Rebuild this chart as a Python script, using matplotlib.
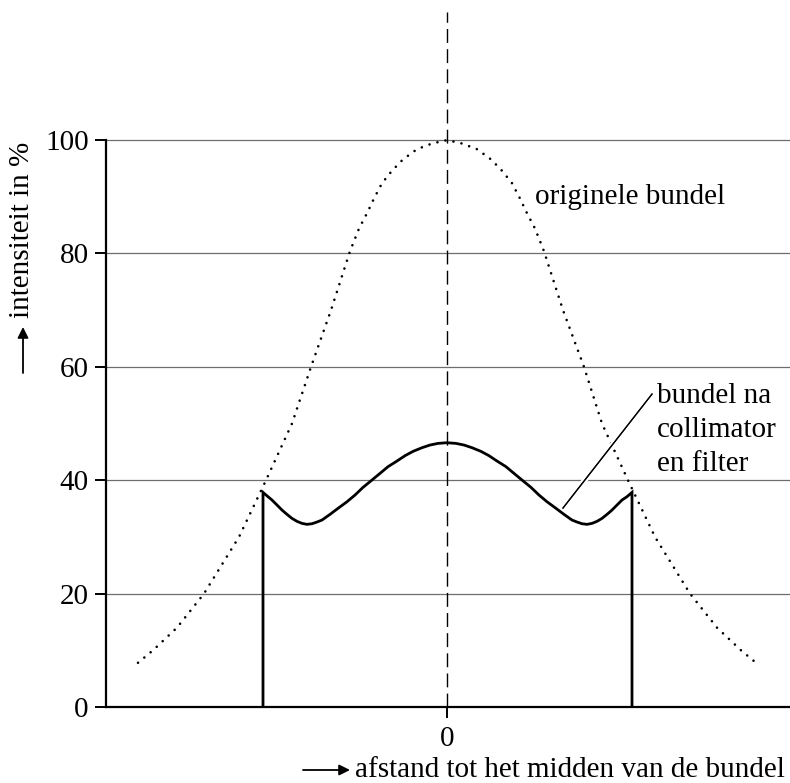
import matplotlib.pyplot as plt
import matplotlib.patheffects as pe

plt.rcParams["font.family"] = ["Liberation Serif", "DejaVu Serif"]

# originele bundel: afstand tot midden (willekeurige eenheid), intensiteit in %
orig_x = [-3.09, -2.94, -2.70, -2.43, -2.08, -1.81, -1.55, -1.36, -1.16, -0.97,
          -0.88, -0.80, -0.73, -0.65, -0.55, -0.44, -0.30, -0.15, 0.00,
          0.15, 0.30, 0.44, 0.55, 0.65, 0.73, 0.80, 0.88, 0.97,
          1.16, 1.37, 1.55, 1.81, 2.08, 2.43, 2.70, 2.94, 3.09]
orig_y = [7.8, 10.0, 14.0, 20.0, 30.0, 40.0, 50.0, 60.0, 70.0, 80.4,
          84.4, 87.1, 89.7, 92.4, 94.6, 96.6, 98.4, 99.4, 100.0,
          99.4, 98.4, 96.6, 94.6, 92.4, 89.7, 87.1, 84.4, 80.4,
          70.0, 60.0, 50.0, 40.0, 30.0, 20.0, 14.0, 10.0, 7.8]

filt_left_x = [-1.84, -1.84, -1.79, -1.75, -1.70, -1.65, -1.60, -1.55, -1.50,
               -1.45, -1.40, -1.35, -1.30, -1.25, -1.17, -1.09, -1.00, -0.92,
               -0.84, -0.75, -0.67, -0.59, -0.50, -0.42, -0.34, -0.25, -0.17,
               -0.09]
filt_left_y = [0.0, 37.86, 37.10, 36.51, 35.63, 34.74, 33.98, 33.27, 32.75,
               32.39, 32.22, 32.33, 32.63, 32.98, 33.98, 35.04, 36.21, 37.39,
               38.74, 40.04, 41.21, 42.39, 43.39, 44.33, 45.09, 45.74, 46.21,
               46.50]
filt_mid_x = [0.0]
filt_mid_y = [46.62]
# rechterhelft: gespiegeld, rechterrand ligt bij 1.85
filt_right_x = [0.09, 0.17, 0.25, 0.34, 0.42, 0.50, 0.59, 0.67, 0.75, 0.84,
                0.92, 1.00, 1.09, 1.17, 1.25, 1.30, 1.35, 1.40, 1.45, 1.50,
                1.55, 1.60, 1.65, 1.70, 1.75, 1.80, 1.85, 1.85]
filt_right_y = [46.50, 46.21, 45.74, 45.09, 44.33, 43.39, 42.39, 41.21, 40.04,
                38.74, 37.39, 36.21, 35.04, 33.98, 32.98, 32.63, 32.33, 32.22,
                32.39, 32.75, 33.27, 33.98, 34.74, 35.63, 36.51, 37.10, 37.86,
                0.0]

y_ticks = [0, 20, 40, 60, 80, 100]
x_ticks = [0]

W, H = 790, 783
fig = plt.figure(figsize=(W / 100, H / 100), dpi=100)
ax = fig.add_axes([106 / W, 76 / H, 684 / W, 695 / H])
ax.set_xlim(-3.41, 3.43)
ax.set_ylim(0, 122.6)

for t in y_ticks[1:]:
    ax.axhline(t, color="#6e6e6e", lw=0.9, zorder=1)

ax.axvline(0, color="black", lw=1.0, dashes=(10, 4.5), zorder=2)

ax.plot(orig_x, orig_y, color="black", lw=1.9, dashes=(0.01, 3.1),
        dash_capstyle="round", zorder=3)

# verwijslijn
ax.plot([1.16, 2.05], [35.1, 55.2], color="black", lw=0.9, zorder=4,
        path_effects=[pe.withStroke(linewidth=4, foreground="white"), pe.Normal()])

fx = filt_left_x + filt_mid_x + filt_right_x
fy = filt_left_y + filt_mid_y + filt_right_y
ax.plot(fx, fy, color="black", lw=2.0, solid_joinstyle="miter", zorder=5)

ax.text(0.88, 90, "originele bundel", fontsize=21, ha="left", va="center")
ax.text(2.10, 48.9, "bundel na\ncollimator\nen filter", fontsize=21,
        ha="left", va="center", linespacing=1.4)

for s in ["top", "right"]:
    ax.spines[s].set_visible(False)
ax.spines["left"].set_bounds(0, 100)
ax.spines["left"].set_linewidth(1.6)
ax.spines["bottom"].set_linewidth(1.6)
ax.spines["left"].set_zorder(6)
ax.spines["bottom"].set_zorder(6)

ax.set_yticks(y_ticks)
ax.set_xticks(x_ticks)
ax.tick_params(axis="y", direction="out", length=8, width=1.4, pad=4.5, labelsize=21)
ax.tick_params(axis="x", direction="out", length=8, width=1.4, pad=6, labelsize=21)

# aslabels met pijlen
fig.text(355 / W, 1 - 770 / H, "afstand tot het midden van de bundel",
         fontsize=21, ha="left", va="center")
fig.text(22 / W, 1 - 230 / H, "intensiteit in %", fontsize=21,
         rotation=90, ha="center", va="center")
arrow = dict(arrowstyle="-|>", color="black", lw=1.3, mutation_scale=16,
             shrinkA=0, shrinkB=0)
ax.annotate("", xy=(350, 13), xytext=(303, 13), xycoords="figure pixels",
            textcoords="figure pixels", arrowprops=arrow, annotation_clip=False)
ax.annotate("", xy=(23, 456), xytext=(23, 410), xycoords="figure pixels",
            textcoords="figure pixels", arrowprops=arrow, annotation_clip=False)

fig.savefig("out.png", dpi=100)
